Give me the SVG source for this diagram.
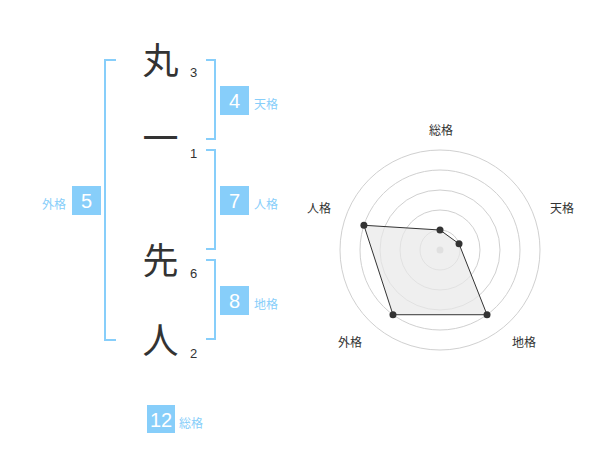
<svg xmlns="http://www.w3.org/2000/svg" width="600" height="470" viewBox="0 0 600 470">
<style>
.kanji{font-family:"Noto Sans CJK JP","Noto Sans CJK SC",sans-serif;font-size:36px;fill:#333;text-anchor:middle}
.num{font-family:"Liberation Sans",Arial,sans-serif;font-size:13px;fill:#333;text-anchor:middle}
.br{fill:none;stroke:#87cefa;stroke-width:2}
.box{fill:#87cefa}
.bt{font-family:"Liberation Sans",Arial,sans-serif;font-size:20px;fill:#fff;text-anchor:middle}
.lb{font-family:"Noto Sans CJK JP",sans-serif;font-size:12px;fill:#87cefa}
.ring{fill:none;stroke:#d0d0d0;stroke-width:1}
.rl{font-family:"Noto Sans CJK JP",sans-serif;font-size:12px;fill:#333;text-anchor:middle}
.dot{fill:#333}
</style>
<g id="name">
<g id="c1"><text class="kanji" x="160.5" y="73.5">丸</text><text class="num" x="193.5" y="77">3</text></g>
<g id="c2"><text class="kanji" x="160.5" y="151.5">一</text><text class="num" x="193.5" y="158">1</text></g>
<g id="c3"><text class="kanji" x="160.5" y="273.5">先</text><text class="num" x="193.5" y="278">6</text></g>
<g id="c4"><text class="kanji" x="160.5" y="353.5">人</text><text class="num" x="193.5" y="358">2</text></g>
</g>
<g id="connectors">
<path class="br" d="M116,60 H105 V340 H116"/>
<path class="br" d="M206,60 H215 V139 H206"/>
<path class="br" d="M206,150 H215 V249 H206"/>
<path class="br" d="M206,260 H215 V339 H206"/>
</g>
<g id="tenkaku"><rect class="box" x="220" y="86" width="29" height="29"/><text class="bt" x="234.5" y="108">4</text><text class="lb" x="254" y="108.5">天格</text></g>
<g id="jinkaku"><rect class="box" x="220" y="186" width="29" height="29"/><text class="bt" x="234.5" y="208">7</text><text class="lb" x="254" y="208.5">人格</text></g>
<g id="chikaku"><rect class="box" x="220" y="286" width="29" height="29"/><text class="bt" x="234.5" y="308">8</text><text class="lb" x="254" y="308.5">地格</text></g>
<g id="gaikaku"><rect class="box" x="72" y="186" width="29" height="29"/><text class="bt" x="86.5" y="208">5</text><text class="lb" x="66" y="208.5" text-anchor="end">外格</text></g>
<g id="soukaku"><rect class="box" x="147" y="405" width="28" height="28"/><text class="bt" x="161" y="427">12</text><text class="lb" x="179" y="427.5">総格</text></g>
<g id="radar">
<circle class="ring" cx="440" cy="250" r="20"/>
<circle class="ring" cx="440" cy="250" r="40"/>
<circle class="ring" cx="440" cy="250" r="60"/>
<circle class="ring" cx="440" cy="250" r="80"/>
<circle class="ring" cx="440" cy="250" r="100"/>
<circle cx="440" cy="250" r="3.5" fill="#cccccc"/>
<polygon points="440,230 459.02,243.82 487.02,314.72 392.98,314.72 363.92,225.28" fill="#e8e8e8" fill-opacity="0.7" stroke="#333" stroke-width="1"/>
<circle class="dot" cx="440" cy="230" r="3.5"/>
<circle class="dot" cx="459.02" cy="243.82" r="3.5"/>
<circle class="dot" cx="487.02" cy="314.72" r="3.5"/>
<circle class="dot" cx="392.98" cy="314.72" r="3.5"/>
<circle class="dot" cx="363.92" cy="225.28" r="3.5"/>
<text class="rl" x="441" y="135">総格</text>
<text class="rl" x="562" y="213">天格</text>
<text class="rl" x="524" y="346.5">地格</text>
<text class="rl" x="350" y="346.5">外格</text>
<text class="rl" x="319" y="213">人格</text>
</g>
</svg>
